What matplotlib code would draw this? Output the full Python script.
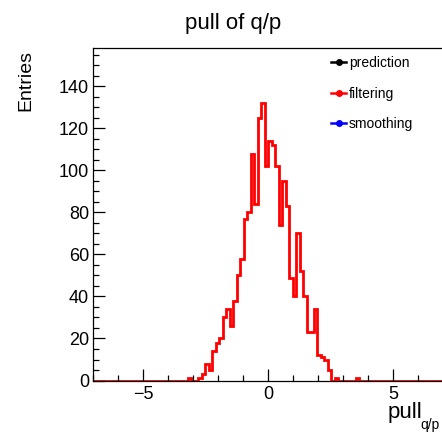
import numpy as np
import matplotlib
matplotlib.use('Agg')
import matplotlib.pyplot as plt
from matplotlib.lines import Line2D
from matplotlib.ticker import MultipleLocator

plt.rcParams['font.family'] = ['Liberation Sans', 'DejaVu Sans']

# histogram binning: 100 bins over [-7, 7]
x_min, x_max, n_bins = -7.0, 7.0, 100
# filled bins (index -> entries), all others are empty
first_bin = 27
filtering = [1, 0, 0, 1, 3, 8, 5, 14, 18, 20,
             30, 34, 26, 38, 50, 58, 77, 80, 108, 84,
             125, 132, 102, 114, 112, 102, 74, 95, 83, 49,
             40, 70, 52, 40, 23, 23, 34, 12, 11, 10,
             5, 0, 1, 0, 0, 0, 0, 0, 1]
legend_labels = ['prediction', 'filtering', 'smoothing']
legend_colors = ['black', 'red', 'blue']

edges = np.linspace(x_min, x_max, n_bins + 1)
counts = np.zeros(n_bins)
counts[first_bin:first_bin + len(filtering)] = filtering

fig = plt.figure(figsize=(4.42, 4.33), dpi=100)
ax = fig.add_axes([0.2111, 0.1212, 0.792, 0.7691])

ax.stairs(counts, edges, color='red', lw=2.0, baseline=0)

ax.set_xlim(x_min, x_max)
ax.set_ylim(0, 158.5)
ax.xaxis.set_major_locator(MultipleLocator(5))
ax.xaxis.set_minor_locator(MultipleLocator(1))
ax.yaxis.set_major_locator(MultipleLocator(20))
ax.yaxis.set_minor_locator(MultipleLocator(5))
ax.tick_params(which='both', direction='in', top=False, right=False,
               labelsize=13, width=0.9)
ax.tick_params(which='major', length=8.5, pad=4)
ax.tick_params(which='minor', length=4.5)
ax.tick_params(axis='y', pad=3)
for s in ax.spines.values():
    s.set_linewidth(0.9)

# legend (ROOT TLegend without border)
handles = [Line2D([], [], color=c, lw=1.8, marker='o', markersize=4) for c in legend_colors]
ax.legend(handles, legend_labels, loc='upper left', bbox_to_anchor=(0.733, 0.887),
          bbox_transform=fig.transFigure, frameon=False, fontsize=10,
          handlelength=1.1, handletextpad=0.2, labelspacing=1.2, borderpad=0)

fig.text(0.527, 1 - 29.5 / 433, 'pull of q/p', ha='center', va='baseline', fontsize=16)
fig.text(25.5 / 442, 1 - 50 / 433, 'Entries', rotation=90, ha='center', va='top', fontsize=14)
fig.text(388 / 442, 1 - 418 / 433, 'pull', ha='left', va='baseline', fontsize=16)
fig.text(420 / 442, 1 - 429 / 433, 'q/p', ha='left', va='baseline', fontsize=10)

plt.savefig('out.png', dpi=100)
